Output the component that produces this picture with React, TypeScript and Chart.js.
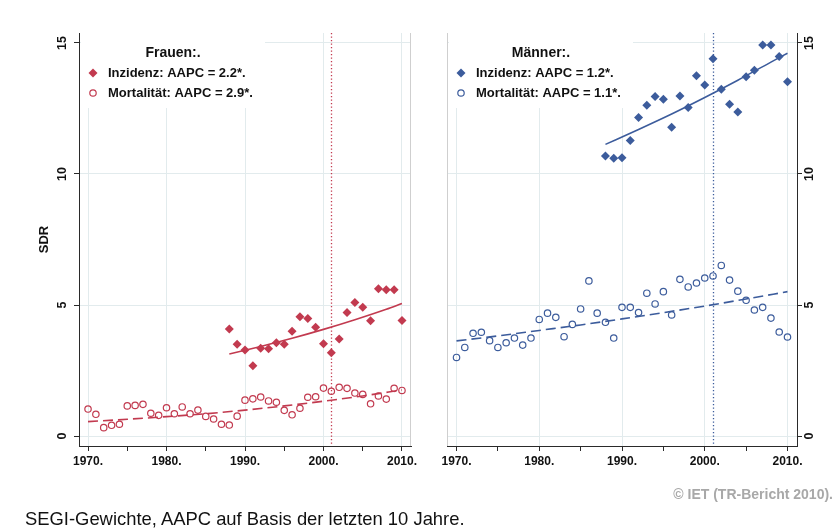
import React, { useEffect, useRef } from 'react';
import { Chart, registerables } from 'chart.js';

Chart.register(...registerables);

const FONT = "'Liberation Sans', Arial, Helvetica, sans-serif";

// ---- data ----
const YEARS = [
  1970, 1971, 1972, 1973, 1974, 1975, 1976, 1977, 1978, 1979,
  1980, 1981, 1982, 1983, 1984, 1985, 1986, 1987, 1988, 1989,
  1990, 1991, 1992, 1993, 1994, 1995, 1996, 1997, 1998, 1999,
  2000, 2001, 2002, 2003, 2004, 2005, 2006, 2007, 2008, 2009, 2010,
];
const INC_YEARS = [
  1988, 1989, 1990, 1991, 1992, 1993, 1994, 1995, 1996, 1997,
  1998, 1999, 2000, 2001, 2002, 2003, 2004, 2005, 2006, 2007,
  2008, 2009, 2010,
];

const F_MORT = [
  1.03, 0.83, 0.32, 0.41, 0.45, 1.15, 1.17, 1.21, 0.87, 0.79,
  1.08, 0.85, 1.11, 0.85, 0.99, 0.75, 0.65, 0.45, 0.42, 0.76,
  1.37, 1.42, 1.49, 1.34, 1.29, 0.98, 0.81, 1.06, 1.48, 1.5,
  1.83, 1.71, 1.86, 1.82, 1.64, 1.59, 1.23, 1.53, 1.41, 1.82, 1.74,
];
const F_INC = [
  4.08, 3.5, 3.28, 2.68, 3.35, 3.33, 3.56, 3.5, 4.0, 4.55,
  4.49, 4.15, 3.52, 3.18, 3.7, 4.71, 5.1, 4.91, 4.4, 5.62,
  5.58, 5.58, 4.41,
];
const M_MORT = [
  3.0, 3.38, 3.92, 3.96, 3.64, 3.38, 3.56, 3.74, 3.47, 3.74,
  4.45, 4.69, 4.53, 3.79, 4.26, 4.85, 5.92, 4.69, 4.34, 3.74,
  4.91, 4.91, 4.71, 5.45, 5.04, 5.51, 4.62, 5.98, 5.69, 5.84,
  6.03, 6.11, 6.51, 5.95, 5.53, 5.18, 4.81, 4.91, 4.5, 3.97, 3.78,
];
const M_INC = [
  10.69, 10.6, 10.62, 11.28, 12.16, 12.62, 12.96, 12.85, 11.78, 12.98,
  12.54, 13.75, 13.4, 14.4, 13.23, 12.66, 12.37, 13.71, 13.96, 14.92,
  14.92, 14.48, 13.52,
];

// fitted trend curves
const INC_TREND_YEARS = [1988, 1992, 1996, 2000, 2004, 2008, 2010];
const F_INC_TREND = [3.13, 3.42, 3.73, 4.07, 4.44, 4.84, 5.06];
const M_INC_TREND = [11.13, 11.7, 12.29, 12.92, 13.58, 14.27, 14.61];
const MORT_TREND_YEARS = [1970, 1975, 1980, 1985, 1990, 1995, 2000, 2005, 2010];
const F_MORT_TREND = [0.55, 0.64, 0.74, 0.85, 0.99, 1.15, 1.33, 1.53, 1.76];
const M_MORT_TREND = [3.63, 3.82, 4.03, 4.24, 4.47, 4.71, 4.96, 5.23, 5.51];

const X_TICKS = [1970, 1975, 1980, 1985, 1990, 1995, 2000, 2005, 2010];
const Y_TICKS = [0, 5, 10, 15];
const REF_YEAR = 2001;

const RED = '#c23a4f';
const BLUE = '#3c5c9c';
const GRID = '#e2ebed';
const AXIS = '#2a2a2a';
const FRAME = '#cfcfcf';

type Side = 'left' | 'right';
interface Spec {
  side: Side;
  color: string;
  title: string;
  incLabel: string;
  mortLabel: string;
  inc: number[];
  mort: number[];
  incTrend: number[];
  mortTrend: number[];
}

const SPECS: Spec[] = [
  {
    side: 'left', color: RED, title: 'Frauen:.',
    incLabel: 'Inzidenz: AAPC = 2.2*.', mortLabel: 'Mortalität: AAPC = 2.9*.',
    inc: F_INC, mort: F_MORT, incTrend: F_INC_TREND, mortTrend: F_MORT_TREND,
  },
  {
    side: 'right', color: BLUE, title: 'Männer:.',
    incLabel: 'Inzidenz: AAPC = 1.2*.', mortLabel: 'Mortalität: AAPC = 1.1*.',
    inc: M_INC, mort: M_MORT, incTrend: M_INC_TREND, mortTrend: M_MORT_TREND,
  },
];

const pts = (xs: number[], ys: number[]) => xs.map((x, i) => ({ x, y: ys[i] }));

function drawDiamond(ctx: CanvasRenderingContext2D, x: number, y: number, r: number, color: string) {
  ctx.beginPath();
  ctx.moveTo(x - r, y);
  ctx.lineTo(x, y - r);
  ctx.lineTo(x + r, y);
  ctx.lineTo(x, y + r);
  ctx.closePath();
  ctx.fillStyle = color;
  ctx.fill();
}
function drawCircle(ctx: CanvasRenderingContext2D, x: number, y: number, r: number, color: string) {
  ctx.beginPath();
  ctx.arc(x, y, r, 0, Math.PI * 2);
  ctx.strokeStyle = color;
  ctx.lineWidth = 1.2;
  ctx.stroke();
}

function decoPlugin(spec: Spec) {
  return {
    id: 'deco_' + spec.side,
    beforeDatasetsDraw(chart: any) {
      const { ctx, chartArea: a } = chart;
      const xs = chart.scales.x;
      ctx.save();
      // legend background box
      ctx.fillStyle = '#ffffff';
      ctx.fillRect(a.left + 2, a.top, 184, 75);
      // inner frame line
      ctx.strokeStyle = FRAME;
      ctx.lineWidth = 1;
      const fx = spec.side === 'left' ? Math.round(a.right) - 0.5 : Math.round(a.left) + 0.5;
      ctx.beginPath();
      ctx.moveTo(fx, a.top);
      ctx.lineTo(fx, a.bottom);
      ctx.stroke();
      // reference year line
      const rx = Math.round(xs.getPixelForValue(REF_YEAR)) + 0.5;
      ctx.strokeStyle = spec.color;
      ctx.lineWidth = 1.3;
      ctx.setLineDash([1.3, 2.2]);
      ctx.beginPath();
      ctx.moveTo(rx, a.top);
      ctx.lineTo(rx, a.bottom);
      ctx.stroke();
      ctx.setLineDash([]);
      // legend
      ctx.fillStyle = '#111111';
      ctx.textBaseline = 'middle';
      ctx.textAlign = 'center';
      ctx.font = `bold 14px ${FONT}`;
      ctx.fillText(spec.title, a.left + 94, a.top + 20);
      ctx.textAlign = 'left';
      ctx.font = `bold 13px ${FONT}`;
      ctx.fillText(spec.incLabel, a.left + 29, a.top + 40);
      ctx.fillText(spec.mortLabel, a.left + 29, a.top + 60);
      drawDiamond(ctx, a.left + 14, a.top + 40, 4.5, spec.color);
      drawCircle(ctx, a.left + 14, a.top + 60, 3.2, spec.color);
      ctx.restore();
    },
    afterDraw(chart: any) {
      const { ctx, chartArea: a } = chart;
      const ys = chart.scales.y;
      ctx.save();
      ctx.fillStyle = '#111111';
      ctx.font = `bold 12.5px ${FONT}`;
      ctx.textAlign = 'center';
      ctx.textBaseline = 'middle';
      const lx = spec.side === 'left' ? a.left - 16 : a.right + 13;
      Y_TICKS.forEach((v) => {
        const y = ys.getPixelForValue(v);
        ctx.save();
        ctx.translate(lx, y);
        ctx.rotate(-Math.PI / 2);
        ctx.fillText(String(v), 0, 0);
        ctx.restore();
      });
      ctx.restore();
    },
  };
}

function makeConfig(spec: Spec): any {
  const c = spec.color;
  const isLeft = spec.side === 'left';
  return {
    type: 'scatter',
    data: {
      datasets: [
        {
          label: spec.incLabel,
          data: pts(INC_YEARS, spec.inc),
          showLine: false,
          pointStyle: 'rectRot',
          pointRadius: 4.5,
          pointBackgroundColor: c,
          pointBorderColor: c,
          pointBorderWidth: 0,
          order: 1,
        },
        {
          label: spec.mortLabel,
          data: pts(YEARS, spec.mort),
          showLine: false,
          pointStyle: 'circle',
          pointRadius: 3.2,
          pointBackgroundColor: 'rgba(0,0,0,0)',
          pointBorderColor: c,
          pointBorderWidth: 1.2,
          order: 2,
        },
        {
          label: 'Trend Inzidenz',
          data: pts(INC_TREND_YEARS, spec.incTrend),
          showLine: true,
          fill: false,
          pointRadius: 0,
          borderColor: c,
          borderWidth: 1.6,
          cubicInterpolationMode: 'monotone',
          order: 3,
        },
        {
          label: 'Trend Mortalität',
          data: pts(MORT_TREND_YEARS, spec.mortTrend),
          showLine: true,
          fill: false,
          pointRadius: 0,
          borderColor: c,
          borderWidth: 1.6,
          borderDash: [10, 5],
          cubicInterpolationMode: 'monotone',
          order: 4,
        },
      ],
    },
    options: {
      animation: false,
      responsive: false,
      devicePixelRatio: 1,
      events: [],
      layout: {
        padding: isLeft
          ? { top: 33, right: 19, bottom: 0, left: 0 }
          : { top: 33, right: 0, bottom: 0, left: 17 },
      },
      plugins: {
        legend: { display: false },
        tooltip: { enabled: false },
        title: { display: false },
      },
      scales: {
        x: {
          type: 'linear',
          position: 'bottom',
          min: 1968.85,
          max: 2011.15,
          afterBuildTicks: (scale: any) => {
            scale.ticks = X_TICKS.map((v) => ({ value: v }));
          },
          afterFit: (scale: any) => {
            scale.height = 85;
          },
          ticks: {
            autoSkip: false,
            maxRotation: 0,
            minRotation: 0,
            padding: 3,
            color: '#111111',
            font: { family: FONT, size: 12, weight: 'bold' },
            callback: (v: any) => (Number(v) % 10 === 0 ? `${v}.` : ''),
          },
          grid: {
            color: (ctx: any) =>
              ctx.tick && Number(ctx.tick.value) % 10 === 0 ? GRID : 'rgba(0,0,0,0)',
            tickColor: AXIS,
            tickLength: 5,
            lineWidth: 1,
          },
          border: { display: true, color: AXIS, width: 1 },
        },
        y: {
          type: 'linear',
          position: isLeft ? 'left' : 'right',
          min: -0.38,
          max: 15.38,
          afterBuildTicks: (scale: any) => {
            scale.ticks = Y_TICKS.map((v) => ({ value: v }));
          },
          afterFit: (scale: any) => {
            scale.width = isLeft ? 79 : 40;
          },
          ticks: { display: false },
          grid: {
            color: GRID,
            tickColor: AXIS,
            tickLength: 5,
            lineWidth: 1,
          },
          border: { display: true, color: AXIS, width: 1 },
          title: {
            display: isLeft,
            text: 'SDR',
            color: '#111111',
            font: { family: FONT, size: 13, weight: 'bold' },
            padding: { top: 37, bottom: 0 },
          },
        },
      },
    },
    plugins: [decoPlugin(spec)],
  };
}

export default function App() {
  const leftRef = useRef<HTMLCanvasElement | null>(null);
  const rightRef = useRef<HTMLCanvasElement | null>(null);

  useEffect(() => {
    const charts: Chart[] = [];
    if (leftRef.current) charts.push(new Chart(leftRef.current, makeConfig(SPECS[0])));
    if (rightRef.current) charts.push(new Chart(rightRef.current, makeConfig(SPECS[1])));
    return () => {
      charts.forEach((ch) => ch.destroy());
    };
  }, []);

  return (
    <div
      style={{
        position: 'absolute',
        left: 0,
        top: 0,
        width: 837,
        height: 531,
        background: '#ffffff',
        fontFamily: FONT,
        overflow: 'hidden',
      }}
    >
      <canvas
        ref={leftRef}
        width={430}
        height={531}
        style={{ position: 'absolute', left: 0, top: 0, width: 430, height: 531 }}
      />
      <canvas
        ref={rightRef}
        width={407}
        height={531}
        style={{ position: 'absolute', left: 430, top: 0, width: 407, height: 531 }}
      />
      <div
        style={{
          position: 'absolute',
          right: 4,
          top: 486,
          fontSize: 14,
          lineHeight: '16px',
          fontWeight: 'bold',
          color: '#a8a8a8',
          whiteSpace: 'nowrap',
        }}
      >
        © IET (TR-Bericht 2010).
      </div>
      <div
        style={{
          position: 'absolute',
          left: 25,
          top: 509,
          fontSize: 18.4,
          lineHeight: '20px',
          color: '#111111',
          whiteSpace: 'nowrap',
        }}
      >
        SEGI-Gewichte, AAPC auf Basis der letzten 10 Jahre.
      </div>
    </div>
  );
}
